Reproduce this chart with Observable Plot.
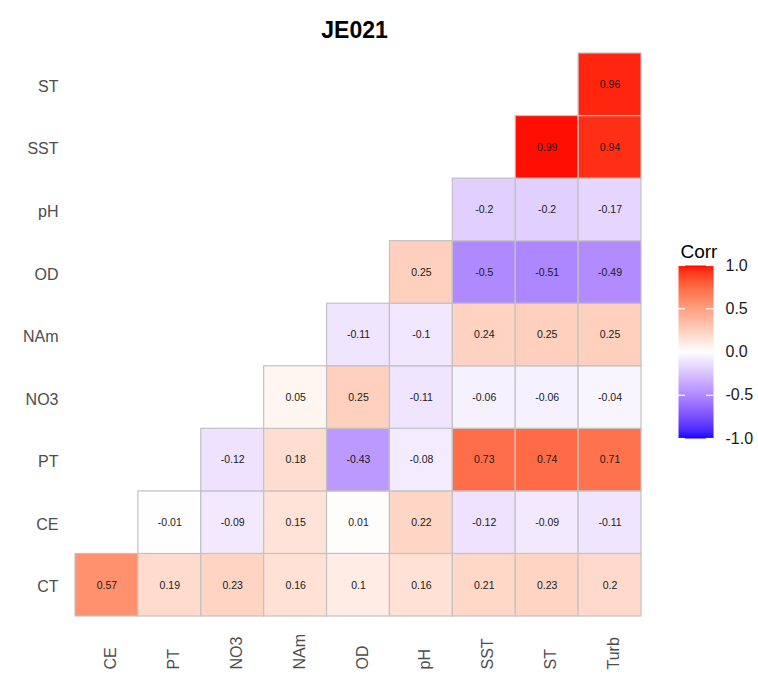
<!DOCTYPE html>
<html>
<head>
<meta charset="utf-8">
<script src="https://cdn.jsdelivr.net/npm/d3@7"></script>
<script src="https://cdn.jsdelivr.net/npm/@observablehq/plot@0.6"></script>
<style>
  body { margin: 0; background: #fff; }
  #wrap { position: relative; width: 758px; height: 675px; font-family: "Liberation Sans", Arial, sans-serif; }
  #wrap svg { position: absolute; overflow: visible; }
</style>
</head>
<body>
<div id="wrap"></div>
<script>
// Variables on each axis (rows listed bottom to top)
const xVars = ["CE", "PT", "NO3", "NAm", "OD", "pH", "SST", "ST", "Turb"];
const yVars = ["CT", "CE", "PT", "NO3", "NAm", "OD", "pH", "SST", "ST"];

// Lower-triangle correlations; row i starts at column xVars[i]
const corrCT  = [0.57, 0.19, 0.23, 0.16, 0.1, 0.16, 0.21, 0.23, 0.2];
const corrCE  = [-0.01, -0.09, 0.15, 0.01, 0.22, -0.12, -0.09, -0.11];
const corrPT  = [-0.12, 0.18, -0.43, -0.08, 0.73, 0.74, 0.71];
const corrNO3 = [0.05, 0.25, -0.11, -0.06, -0.06, -0.04];
const corrNAm = [-0.11, -0.1, 0.24, 0.25, 0.25];
const corrOD  = [0.25, -0.5, -0.51, -0.49];
const corrPH  = [-0.2, -0.2, -0.17];
const corrSST = [0.99, 0.94];
const corrST  = [0.96];

const legendTicks = [-1, -0.5, 0, 0.5, 1];
const titleText = "JE021";

const rowsData = [corrCT, corrCE, corrPT, corrNO3, corrNAm, corrOD, corrPH, corrSST, corrST];
const cells = [];
rowsData.forEach((vals, i) => {
  vals.forEach((v, j) => cells.push({x: xVars[i + j], y: yVars[i], v}));
});

const colorScale = {
  type: "linear",
  domain: [-1, 0, 1],
  range: ["blue", "white", "red"],
  interpolate: "lab"
};

const font = "'Liberation Sans', Arial, sans-serif";

const main = Plot.plot({
  width: 758,
  height: 675,
  marginLeft: 75,
  marginRight: 117,
  marginTop: 53,
  marginBottom: 59,
  style: {fontFamily: font, background: "white"},
  x: {type: "band", domain: xVars, padding: 0, round: false, axis: null},
  y: {type: "band", domain: yVars.slice().reverse(), padding: 0, round: false, axis: null},
  color: colorScale,
  marks: [
    Plot.cell(cells, {x: "x", y: "y", fill: "v", stroke: "#c2c2c2", strokeWidth: 1.2}),
    Plot.text(cells, {x: "x", y: "y", text: d => String(d.v), fontSize: 10.5, fill: "#1a1a1a"}),
    Plot.text(yVars, {y: d => d, frameAnchor: "left", textAnchor: "end", dx: -17, dy: 2, fontSize: 16, fill: "#4d4d4d"}),
    Plot.text(xVars, {x: d => d, frameAnchor: "bottom", rotate: -90, textAnchor: "start", dx: 9, dy: 53, fontSize: 16, fill: "#4d4d4d"}),
    Plot.text([titleText], {frameAnchor: "top", dx: -4, dy: -32, fontSize: 23, fontWeight: "bold", fill: "#000"})
  ]
});
main.style.left = "0px";
main.style.top = "0px";

const legend = Plot.plot({
  width: 80,
  height: 220,
  marginLeft: 0,
  marginRight: 45,
  marginTop: 35,
  marginBottom: 12,
  style: {fontFamily: font, background: "transparent"},
  x: {domain: [0, 1], axis: null},
  y: {domain: [-1, 1], axis: null},
  color: colorScale,
  marks: [
    Plot.raster({x1: 0, x2: 1, y1: -1, y2: 1, width: 1, height: 256, fill: (x, y) => y, imageRendering: "auto"}),
    Plot.ruleY(legendTicks, {y: d => d, x1: 0, x2: 0.2, stroke: "white", strokeWidth: 1.2}),
    Plot.ruleY(legendTicks, {y: d => d, x1: 0.8, x2: 1, stroke: "white", strokeWidth: 1.2}),
    Plot.text(legendTicks, {y: d => d, frameAnchor: "right", textAnchor: "start", dx: 12, text: d => d.toFixed(1), fontSize: 16, fill: "#1a1a1a"}),
    Plot.text(["Corr"], {frameAnchor: "top-left", textAnchor: "start", dx: 2, dy: -21, fontSize: 19, fill: "#000"})
  ]
});
legend.style.left = "678px";
legend.style.top = "230px";

const wrap = document.getElementById("wrap");
wrap.appendChild(main);
wrap.appendChild(legend);
</script>
</body>
</html>
